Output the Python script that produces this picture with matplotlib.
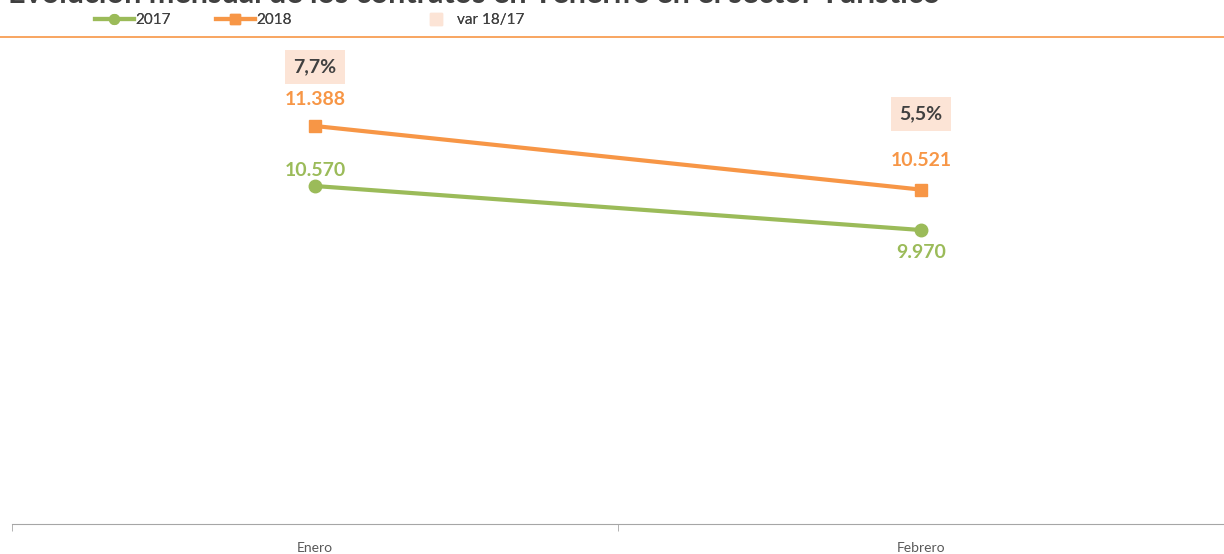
import matplotlib
matplotlib.use("Agg")
import matplotlib.pyplot as plt
from matplotlib.lines import Line2D

months = ["Enero", "Febrero"]
y2017 = [10570, 9970]
y2018 = [11388, 10521]
var = [7.7, 5.5]
var_labels = ["7,7%", "5,5%"]
legend_labels = ["2017", "2018", "var 18/17"]
title = "Evolución mensual de los contratos en Tenerife en el sector Turístico"

GREEN = "#9BBB59"
ORANGE = "#F79646"
VARC = "#FCE4D6"
DARK = "#404040"

plt.rcParams['font.family'] = ['Lato', 'DejaVu Sans']

W, H = 1224, 554
fig = plt.figure(figsize=(W/100, H/100), dpi=100)

def px(x0, y0, x1, y1):
    return [x0/W, 1 - y1/H, (x1-x0)/W, (y1-y0)/H]

ax = fig.add_axes(px(12, 38, 1224, 524))
x = list(range(len(months)))
ax.plot(x, y2017, color=GREEN, lw=3, marker='o', ms=9)
ax.plot(x, y2018, color=ORANGE, lw=3, marker='s', ms=9)
ax.set_xlim(-0.5, 1.5)
ax.set_ylim(5962, 12588)
for s in ['top', 'right', 'left']:
    ax.spines[s].set_visible(False)
ax.spines['bottom'].set_color('#A6A6A6')
ax.set_yticks([])
ax.set_xticks(x)
ax.set_xticklabels(months, fontsize=10, color='#595959')
ax.tick_params(axis='x', which='major', length=0, pad=13)
ax.set_xticks([-0.5, 0.5, 1.5], minor=True)
ax.tick_params(axis='x', which='minor', length=5, color='#A6A6A6')

for xi, v, o in zip(x, y2018, [13, 15]):
    ax.annotate(f"{v:,}".replace(",", "."), (xi, v), xytext=(0, o), textcoords='offset points',
                ha='center', va='bottom', fontsize=14, fontweight='bold', color=ORANGE)
offs = [(0, 5), (0, -10)]
vas = ['bottom', 'top']
for xi, v, o, va in zip(x, y2017, offs, vas):
    ax.annotate(f"{v:,}".replace(",", "."), (xi, v), xytext=o, textcoords='offset points',
                ha='center', va=va, fontsize=14, fontweight='bold', color=GREEN)

ax2 = ax.twinx()
ax2.set_xlim(-0.5, 1.5)
ax2.plot(x, var, alpha=0)
slope = (114 - 67) / (7.7 - 5.5)
top = 7.7 + (67 - 38) / slope
bot = 7.7 - (524 - 67) / slope
ax2.set_ylim(bot, top)
ax2.axis('off')
for xi, v, lab in zip(x, var, var_labels):
    ax2.text(xi, v, lab, ha='center', va='center', fontsize=14, fontweight='bold', color=DARK,
             bbox=dict(boxstyle='square,pad=0.42', fc=VARC, ec='none'))

# separator line
fig.add_artist(Line2D([0, 1], [1 - 37/H, 1 - 37/H], color=ORANGE, lw=1.2))

# cut-off title
fig.text(8/W, 1 - 3/H, title, ha='left', va='baseline', fontsize=22, fontweight='bold', color=DARK)

handles = [Line2D([], [], color=GREEN, lw=3, marker='o', ms=7),
           Line2D([], [], color=ORANGE, lw=3, marker='s', ms=7),
           Line2D([], [], color=VARC, lw=0, marker='s', ms=9)]
leg_x = [90, 211, 412]
for h, lab, lx in zip(handles, legend_labels, leg_x):
    lg = fig.legend([h], [lab], loc='center left', bbox_to_anchor=(lx/W, 1 - 20/H),
                    frameon=False, fontsize=11, handlelength=2.6, handletextpad=0.05,
                    borderaxespad=0, borderpad=0.3, labelcolor=DARK)
    fig.add_artist(lg)

fig.savefig("out.png", dpi=100)
